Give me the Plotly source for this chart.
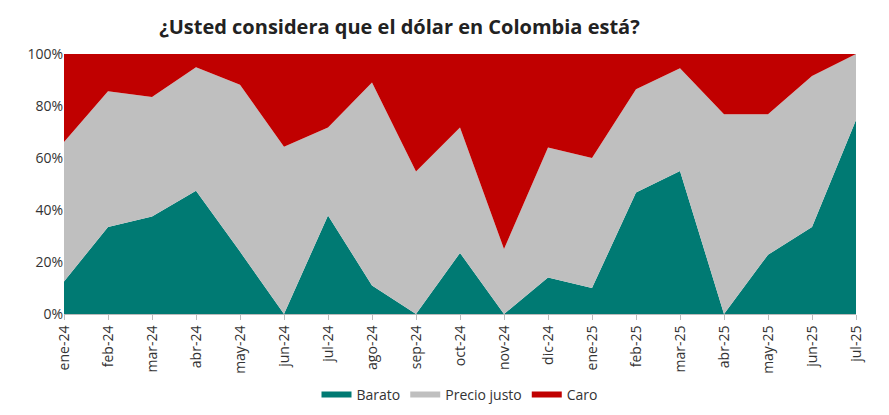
import plotly.graph_objects as go

meses = ["ene-24","feb-24","mar-24","abr-24","may-24","jun-24","jul-24","ago-24","sep-24","oct-24",
         "nov-24","dic-24","ene-25","feb-25","mar-25","abr-25","may-25","jun-25","jul-25"]
barato = [12.5,33.5,37.5,47.4,24,0,37.9,11,0,23.5,0,14,10,46.7,55,0,22.8,33.5,74.6]
precio_justo = [53.7,52.2,46,47.5,64.2,64.3,33.8,78,54.8,48.2,25,50,50,39.7,39.5,76.8,54,58,25.4]
caro = [100 - b - p for b, p in zip(barato, precio_justo)]
ytick_vals = [0, 20, 40, 60, 80, 100]
ytick_text = ["0%", "20%", "40%", "60%", "80%", "100%"]

fig = go.Figure()
for name, vals, col in [("Barato", barato, "#007a73"), ("Precio justo", precio_justo, "#bfbfbf"), ("Caro", caro, "#c00000")]:
    fig.add_trace(go.Scatter(x=meses, y=vals, name=name, stackgroup="one", mode="none",
                             fillcolor=col, line=dict(width=0)))

fig.update_layout(
    width=889, height=415, plot_bgcolor="white", paper_bgcolor="white",
    font=dict(family="Open Sans", size=14, color="#333"),
    title=dict(text="<b>¿Usted considera que el dólar en Colombia está?</b>", x=0.17, y=0.97,
               font=dict(size=20, color="#222")),
    margin=dict(l=56, r=41, t=46, b=84),
    legend=dict(orientation="h", x=0.5, xanchor="center", y=-0.25, yanchor="top",
                font=dict(size=14), traceorder="normal"),
    xaxis=dict(range=[0, 18], tickangle=-90, showgrid=False, ticks="outside", ticklen=5,
               linecolor="#bbb", tickcolor="#bbb"),
    yaxis=dict(range=[0, 100], tickvals=ytick_vals, ticktext=ytick_text, showgrid=False,
               zeroline=False),
)
fig.write_html("out.html")
